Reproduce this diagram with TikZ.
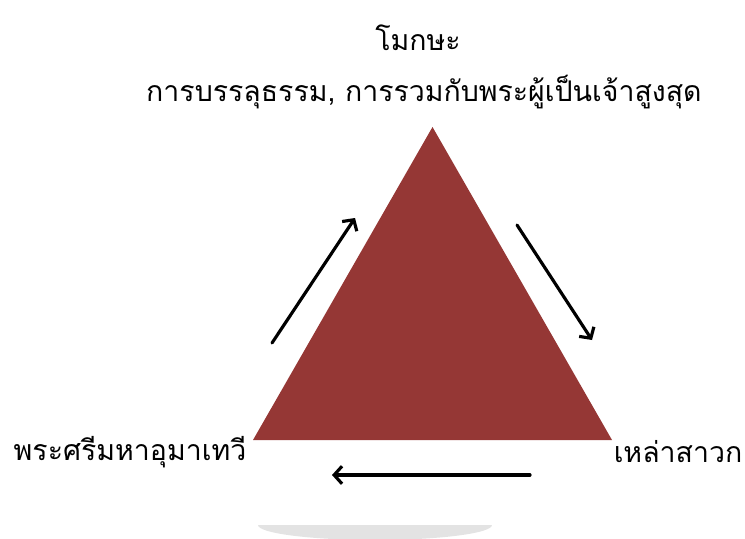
\documentclass[tikz,border=0pt]{standalone}
\usepackage{fontspec}
\newfontfamily\thaifont[Script=Thai]{Loma}
\usetikzlibrary{arrows.meta}
\definecolor{pyramidred}{HTML}{953735}
\definecolor{shadowgrey}{HTML}{E3E3E3}
\tikzset{
	cyclearrow/.style={line width=1.8pt,-{Straight Barb[length=4.5pt,width=10pt,line width=1.8pt]}},
	label/.style={font=\thaifont\fontsize{16.2}{19}\selectfont,inner sep=0pt}
}
\begin{document}
\begin{tikzpicture}[line join=round,line cap=round]
	\useasboundingbox (0,0) rectangle (14.9,10.76);
	% ฐานเงา
	\fill[shadowgrey] (9.84,0.26) arc[start angle=0,end angle=-180,x radius=2.34,y radius=0.3] -- cycle;
	% จุดยอดสามเหลี่ยม
	\coordinate (top) at (8.65,8.22);
	\coordinate (left) at (5.06,1.96);
	\coordinate (right) at (12.24,1.96);
	\fill[pyramidred] (left)--(top)--(right)--cycle;
	% ลูกศร
	\coordinate (l1) at (5.44,3.9); \coordinate (l2) at (7.1,6.4);
	\coordinate (r1) at (10.34,6.26); \coordinate (r2) at (11.84,3.96);
	\coordinate (b1) at (10.6,1.26); \coordinate (b2) at (6.64,1.26);
	\draw[cyclearrow] (l1)--(l2);
	\draw[cyclearrow] (r1)--(r2);
	\draw[cyclearrow] (b1)--(b2);
	% ข้อความ
	\node[label] (moksha) at (8.36,10.0) {โมกษะ};
	\node[label] (goal) at (8.48,8.92) {การบรรลุธรรม, การรวมกับพระผู้เป็นเจ้าสูงสุด};
	\node[label] (devi) at (2.6,1.72) {พระศรีมหาอุมาเทวี};
	\node[label] (disciples) at (13.56,1.72) {เหล่าสาวก};
\end{tikzpicture}
\end{document}
